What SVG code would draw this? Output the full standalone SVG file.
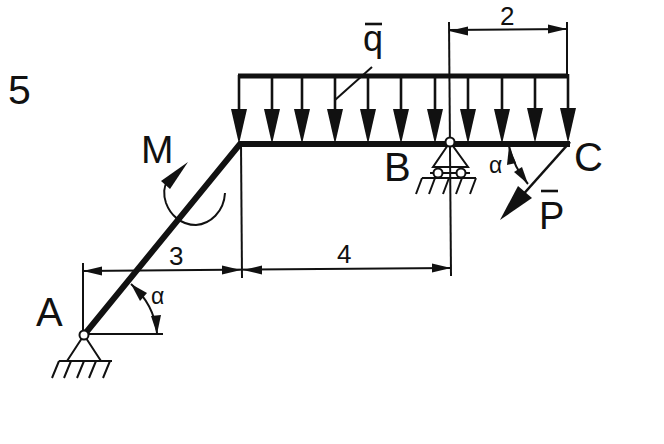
<svg xmlns="http://www.w3.org/2000/svg" width="664" height="444" viewBox="0 0 664 444">
<style>
.t{font-family:"Liberation Sans",Arial,sans-serif;fill:#111}
.thin{stroke:#111;stroke-width:2;fill:none}
.mid{stroke:#111;stroke-width:2.6;fill:none}
.thick{stroke:#111;stroke-width:6;fill:none}
.pin{fill:#fff;stroke:#111;stroke-width:2}
.ah{fill:#111;stroke:none}
</style>
<defs>
<g id="load"><path d="M0,-66V-30" class="mid"/><path d="M-8,-32L8,-32L0,3Z" class="ah"/></g>
<path id="dimhead" d="M0,0L-19,-4.500V4.500Z" class="ah"/>
</defs>
<g id="connectors">
<path d="M449,22L451,276" class="thin"/>
<path d="M567,22V76" class="thin"/>
<path d="M449,30L567,29" class="thin"/>
<use href="#dimhead" transform="translate(449,31) rotate(180)"/>
<use href="#dimhead" transform="translate(567,29)"/>
<path d="M241,144L242,278" class="thin"/>
<path d="M83,263V335" class="thin"/>
<path d="M83,271L451,268" class="thin"/>
<use href="#dimhead" transform="translate(83,271) rotate(180)"/>
<use href="#dimhead" transform="translate(241,270)"/>
<use href="#dimhead" transform="translate(243,270) rotate(180)"/>
<use href="#dimhead" transform="translate(451,268)"/>
<path d="M84,334H163" class="thin"/>
<path d="M131,284Q154,304 157,333" class="thin"/>
<path d="M131,284L147,293L140,301Z" class="ah"/>
<path d="M157,334L151,316L161,315Z" class="ah"/>
<path d="M372,67L335,100" class="thin"/>
<path d="M509,146Q514,168 528,184" class="thin"/>
<path d="M509,146L516,163L507,165Z" class="ah"/>
<path d="M528,184L514,172L522,167Z" class="ah"/>
<path d="M570,142L520,198" class="mid"/>
<path d="M500,220L518,186L532,198Z" class="ah"/>
<path d="M225,193C224,212 210,224 196,225C180,225 170,214 166,203C163,194 164,186 167,182" class="thin"/>
<path d="M188,162L161,181L170,189Z" class="ah"/>
</g>
<g id="beam">
<path d="M84,335L240,144H570" class="thick" stroke-linejoin="miter"/>
</g>
<g id="load-q">
<path d="M238,76H568" stroke="#111" stroke-width="5" fill="none"/>
<use href="#load" transform="translate(239,141)"/>
<use href="#load" transform="translate(272,141)"/>
<use href="#load" transform="translate(302,141)"/>
<use href="#load" transform="translate(335,141)"/>
<use href="#load" transform="translate(368,141)"/>
<use href="#load" transform="translate(401,141)"/>
<use href="#load" transform="translate(435,141)"/>
<use href="#load" transform="translate(468,141)"/>
<use href="#load" transform="translate(502,141)"/>
<use href="#load" transform="translate(535,140)"/>
<use href="#load" transform="translate(568,140)"/>
</g>
<g id="support-A">
<path d="M84,335L67,361M84,335L101,361M59,361H112M59,361L52,378M71,361L64,378M84,361L77,378M96,361L89,378M110,361L103,378" class="thin"/>
<circle cx="84" cy="335" r="4.500" class="pin"/>
</g>
<g id="support-B">
<path d="M450,142L433,167H468Z" class="thin"/>
<path d="M433,167H468" class="thin"/>
<path d="M422,178H476M422,178L416,194M435,178L429,194M449,178L443,194M462,178L456,194M476,178L470,194" class="thin"/>
<path d="M430,173H470" class="thin"/>
<circle cx="438" cy="173" r="4.500" class="pin"/>
<circle cx="461" cy="173" r="4.500" class="pin"/>
<circle cx="450" cy="142" r="4.500" class="pin"/>
</g>
<g id="labels">
<text class="t" x="8" y="104" font-size="41">5</text>
<text class="t" x="141" y="163" font-size="39">M</text>
<text class="t" x="36" y="326" font-size="40">A</text>
<text class="t" x="384" y="181" font-size="40">B</text>
<text class="t" x="574" y="171" font-size="40">C</text>
<text class="t" x="363" y="51" font-size="36">q</text>
<path d="M365,24H382" class="mid"/>
<text class="t" x="539" y="229" font-size="38">P</text>
<path d="M541,191H558" class="mid"/>
<text class="t" x="500" y="25" font-size="26">2</text>
<text class="t" x="169" y="265" font-size="26">3</text>
<text class="t" x="337" y="263" font-size="26">4</text>
<text class="t" x="151" y="304" font-size="23">α</text>
<text class="t" x="489" y="173" font-size="23">α</text>
</g>
</svg>
